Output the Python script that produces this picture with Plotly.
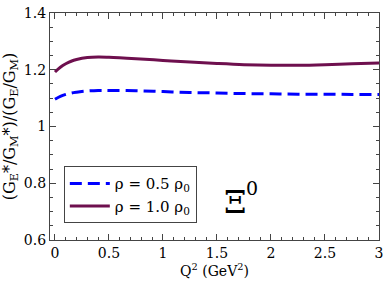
import plotly.graph_objects as go

q2 = [0.0, 0.05, 0.1, 0.15, 0.2, 0.3, 0.4, 0.5, 0.75, 1.0, 1.25, 1.5, 1.75, 2.0, 2.25, 2.5, 2.75, 3.0]
ratio_05 = [1.096, 1.106, 1.113, 1.118, 1.121, 1.125, 1.127, 1.127, 1.126, 1.123, 1.120, 1.118, 1.116, 1.115, 1.114, 1.114, 1.113, 1.113]
ratio_10 = [1.192, 1.209, 1.221, 1.230, 1.236, 1.243, 1.245, 1.244, 1.239, 1.233, 1.227, 1.222, 1.218, 1.216, 1.216, 1.218, 1.221, 1.224]
names = ["ρ = 0.5 ρ<sub>0</sub>", "ρ = 1.0 ρ<sub>0</sub>"]
x_ticks = [0, 0.5, 1, 1.5, 2, 2.5, 3]
x_ticktext = ["0", "0.5", "1", "1.5", "2", "2.5", "3"]
y_ticks = [0.6, 0.8, 1.0, 1.2, 1.4]
y_ticktext = ["0.6", "0.8", "1", "1.2", "1.4"]

FONT = "DejaVu Serif"
fig = go.Figure()
fig.add_trace(go.Scatter(x=q2, y=ratio_05, mode="lines", name=names[0], line=dict(color="#0000FF", width=3, dash="12px,6px", shape="spline")))
fig.add_trace(go.Scatter(x=q2, y=ratio_10, mode="lines", name=names[1], line=dict(color="#6E0F4E", width=3, shape="spline")))

axis_common = dict(showgrid=False, zeroline=False, showline=True, linecolor="#444", linewidth=1.2,
                   mirror="allticks", ticks="inside", ticklen=6, tickcolor="#444", tickwidth=1,
                   ticklabeloverflow="allow",
                   tickfont=dict(family=FONT, size=14, color="black"))
fig.update_xaxes(range=[-0.046, 3.0], tickmode="array", tickvals=x_ticks, ticktext=x_ticktext,
                 minor=dict(dtick=0.1, tick0=0, ticks="inside", ticklen=3, tickcolor="#444"),
                 title=dict(text="Q<sup>2</sup> (GeV<sup>2</sup>)", font=dict(family=FONT, size=14, color="black"), standoff=6),
                 **axis_common)
fig.update_yaxes(range=[0.6, 1.4], tickmode="array", tickvals=y_ticks, ticktext=y_ticktext,
                 minor=dict(dtick=0.05, tick0=0.6, ticks="inside", ticklen=3, tickcolor="#444"),
                 title=dict(text="(G<sub>E</sub>*/G<sub>M</sub>*)/(G<sub>E</sub>/G<sub>M</sub>)", font=dict(family=FONT, size=16, color="black"), standoff=4),
                 **axis_common)
fig.add_annotation(x=1.675, y=0.735, xref="x", yref="y", text="Ξ", showarrow=False,
                   font=dict(family=FONT, size=32, color="black"))
fig.add_annotation(x=1.82, y=0.785, xref="x", yref="y", text="0", showarrow=False,
                   font=dict(family=FONT, size=19, color="black"))
fig.update_layout(width=388, height=284, margin=dict(l=50, r=5, t=6, b=44),
                  plot_bgcolor="white", paper_bgcolor="white",
                  legend=dict(x=0.042, y=0.325, xanchor="left", yanchor="top", bgcolor="white",
                              bordercolor="#444", borderwidth=1, font=dict(family=FONT, size=15, color="black"),
                              tracegroupgap=0, itemwidth=40))
fig.write_html("out.html", config={"displayModeBar": False},
               post_script="document.body.style.margin='0';document.body.style.padding='0';")
